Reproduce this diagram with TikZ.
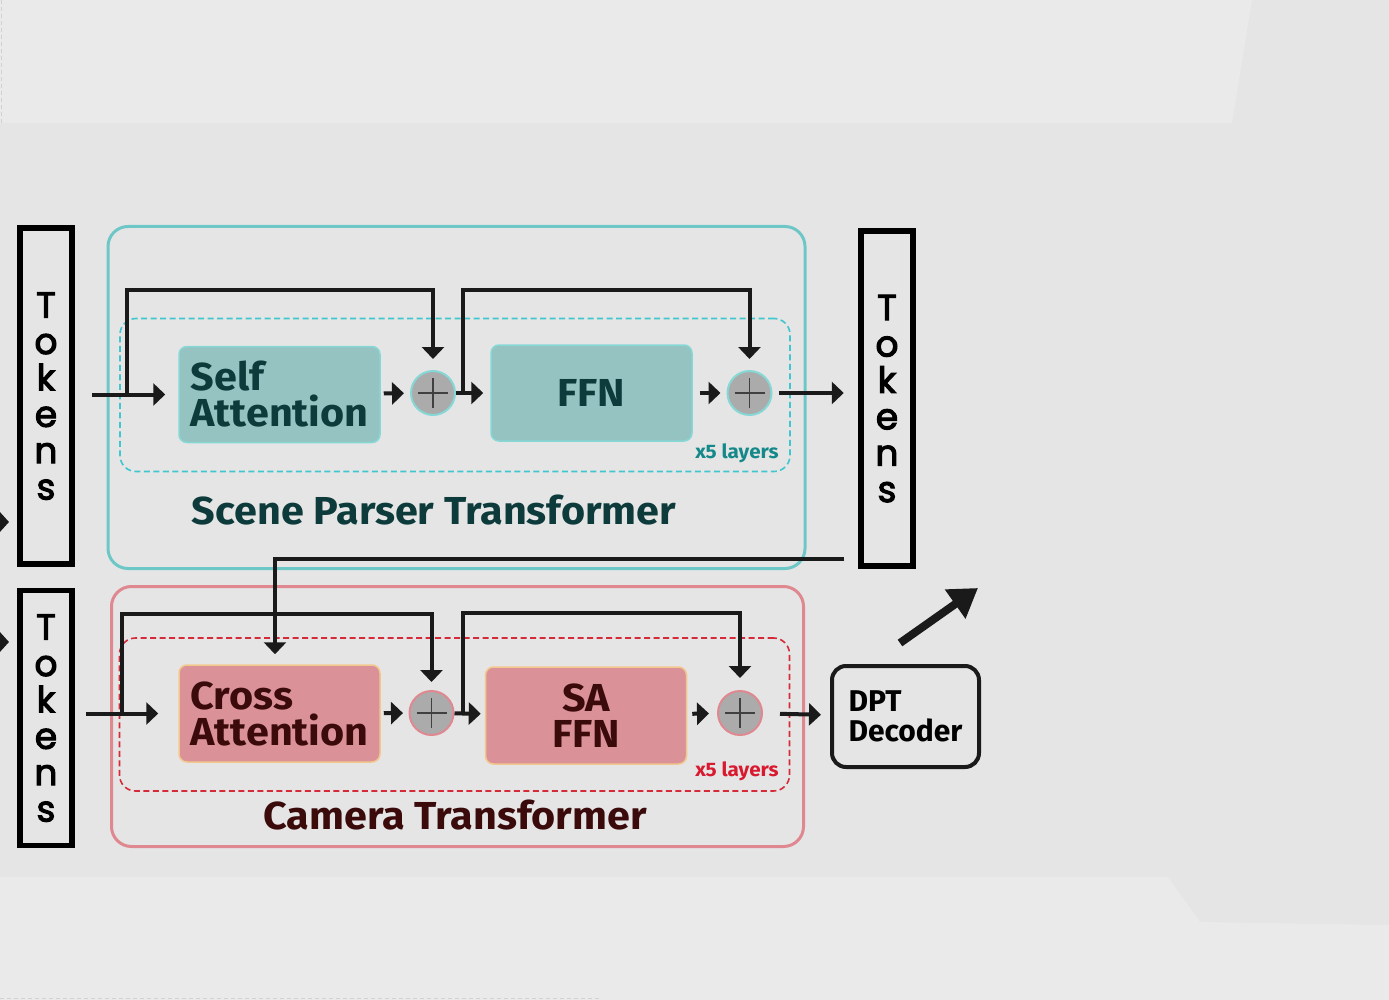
\documentclass[tikz,border=0pt]{standalone}
\usepackage{fontspec}
\setmainfont{Fira Sans}
\newfontfamily\headfont{Fira Sans}[FakeStretch=1.06]
\newfontfamily\tokfont{Poppins}[FakeBold=3]
\usetikzlibrary{arrows.meta,calc,positioning}
\definecolor{bgmid}{HTML}{E5E5E5}
\definecolor{bglight}{HTML}{EAEAEA}
\definecolor{scline}{HTML}{6EC7C7}
\definecolor{scdash}{HTML}{3FC6CE}
\definecolor{scfill}{HTML}{95C3C1}
\definecolor{scedge}{HTML}{86D8D6}
\definecolor{sctext}{HTML}{0D3B3B}
\definecolor{sclayer}{HTML}{15898A}
\definecolor{caline}{HTML}{E08890}
\definecolor{cadash}{HTML}{D52A38}
\definecolor{cafill}{HTML}{DB9198}
\definecolor{caedge}{HTML}{F2C88E}
\definecolor{catext}{HTML}{3B0B0B}
\definecolor{calayer}{HTML}{D8192F}
\definecolor{addfill}{HTML}{ABABAB}
\definecolor{inkblk}{HTML}{1A1A1A}

\begin{document}
\begin{tikzpicture}[x=1pt,y=-1pt,>={Triangle[length=12pt,width=22pt]},
    flow/.style={->,line width=4pt,draw=inkblk},
    tokbox/.style={draw=black,line width=5.5pt,minimum width=52pt,inner sep=0pt,align=center,
      font=\tokfont\fontsize{36}{36.4}\selectfont},
    frame/.style={rounded corners=20pt,line width=3pt,inner sep=0pt},
    layerbox/.style={dash pattern=on 6pt off 3.5pt,rounded corners=16pt,line width=1.6pt,
      inner sep=0pt,minimum width=670pt,minimum height=153pt},
    block/.style={rounded corners=8pt,line width=1.5pt,inner sep=0pt,minimum width=201pt,
      minimum height=96pt,align=left,font=\headfont\bfseries\fontsize{39}{36}\selectfont},
    addop/.style={circle,minimum size=44pt,inner sep=0pt,line width=2pt,fill=addfill,
      path picture={\draw[line width=1.8pt,black!75]
        ($(path picture bounding box.center)+(-15,0)$) -- ($(path picture bounding box.center)+(15,0)$)
        ($(path picture bounding box.center)+(0,-15)$) -- ($(path picture bounding box.center)+(0,15)$);}},
    reps/.style={font=\headfont\bfseries\fontsize{19.5}{19.5}\selectfont},
    title/.style={font=\headfont\bfseries\fontsize{39}{39}\selectfont}]
  \useasboundingbox (0,0) rectangle (1389,1000);
  % background
  \fill[bgmid] (0,0) rectangle (1389,1000);
  \fill[bglight] (0,0) -- (1252,0) -- (1232,123) -- (0,123) -- cycle;
  \fill[bglight] (0,877) -- (1168,877) -- (1200,922) -- (1389,925) -- (1389,1000) -- (0,1000) -- cycle;
  \draw[black!18,line width=1pt,dash pattern=on 4pt off 3pt] (1,0) -- (1,123);
  \draw[black!18,line width=1pt,dash pattern=on 4pt off 3pt] (0,998) -- (600,998);

  % token columns
  \node[tokbox,minimum height=336pt,text depth=-10pt] (tokA) at (46,396) {T\\o\\k\\e\\n\\s};
  \node[tokbox,minimum height=335pt,text depth=-8pt] (tokB) at (887,398.5) {T\\o\\k\\e\\n\\s};
  \node[tokbox,minimum height=255pt,text depth=-4pt] (tokC) at (46,718) {T\\o\\k\\e\\n\\s};

  % scene parser
  \node[frame,draw=scline,minimum width=697pt,minimum height=342pt] (scene) at (456.5,397.5) {};
  \node[layerbox,draw=scdash] (sclayers) at (455,395) {};
  \node[block,fill=scfill,draw=scedge,text=sctext] (selfatt) at (279.5,394.5) {Self\\Attention};
  \node[addop,draw=scedge] (addA) at (433,393) {};
  \node[block,fill=scfill,draw=scedge,text=sctext,align=center] (ffn) at (591.5,393) {FFN};
  \node[addop,draw=scedge] (addB) at (749.5,393) {};
  \node[reps,text=sclayer] (screp) at (737,453) {x5 layers};
  \node[title,text=sctext] (scname) at (434,510) {Scene Parser Transformer};

  % camera
  \node[frame,draw=caline,minimum width=692pt,minimum height=260pt] (camera) at (457.5,716.5) {};
  \node[layerbox,draw=cadash] (calayers) at (454.5,714.5) {};
  \node[block,fill=cafill,draw=caedge,text=catext,minimum height=97pt] (crossatt) at (279.5,713.5) {Cross\\Attention};
  \node[addop,draw=caline] (addC) at (431.5,713) {};
  \node[block,fill=cafill,draw=caedge,text=catext,minimum height=97pt,align=center] (saffn) at (586,715.5) {SA\\FFN};
  \node[addop,draw=caline] (addD) at (740,713) {};
  \node[reps,text=calayer] (carep) at (737,771) {x5 layers};
  \node[title,text=catext] (caname) at (455,815) {Camera Transformer};

  \node[draw=inkblk,line width=4pt,rounded corners=14pt,minimum width=147pt,minimum height=101pt,
    inner sep=0pt,align=left,font=\bfseries\fontsize{30}{30}\selectfont] (dpt) at (905.5,716.5) {DPT\\Decoder};

  % scene connectors
  \coordinate (skA) at ($(selfatt.west)+(-51,0)$);
  \coordinate (skB) at ($(addA.east)+(7,0)$);
  \draw[flow,shorten >=13pt] ([xshift=17pt]tokA.east |- selfatt.west) -- (selfatt.west);
  \draw[flow,shorten >=11pt] (skA) -- ++(0,-104.5) -| (addA);
  \draw[flow,shorten <=3pt,shorten >=6pt] (selfatt) -- (addA);
  \draw[flow,shorten >=7pt] (addA) -- (ffn);
  \draw[flow,shorten >=11pt] (skB) -- ++(0,-103) -| (addB);
  \draw[flow,shorten <=7pt,shorten >=6pt] (ffn) -- (addB);
  \draw[flow,shorten <=6.5pt,shorten >=14.5pt] (addB) -- (addB -| tokB.west);

  % camera connectors
  \coordinate (feed) at ($(tokB.south west)+(-14,-10)$);
  \coordinate (skC) at ($(crossatt.west)+(-56,0)$);
  \coordinate (skD) at ($(addC.east)+(8,0)$);
  \draw[flow,shorten >=10pt] (feed) -| ([xshift=-4.5pt]crossatt.north);
  \draw[flow,shorten >=20pt] ([xshift=11pt]tokC.east |- crossatt.west) -- (crossatt.west);
  \draw[flow,shorten >=8pt] (skC) -- ++(0,-100) -| (addC);
  \draw[flow,shorten <=3pt,shorten >=5.5pt] (crossatt) -- (addC);
  \draw[flow,shorten >=4pt] (addC) -- (saffn);
  \draw[flow,shorten >=12pt] (skD) -- ++(0,-100) -| (addD);
  \draw[flow,shorten <=5pt,shorten >=8pt] (saffn) -- (addD);
  \draw[flow,shorten <=17pt,shorten >=9pt] (addD) -- (dpt);

  % outgoing and incoming stubs
  \coordinate (outup) at (978,588);
  \coordinate (inA) at (9,522);
  \coordinate (inB) at (9,642);
  \draw[->,line width=8pt,draw=inkblk,>={Triangle[length=28pt,width=34pt]}] ($(dpt.north)+(-5.5,-21)$) -- (outup);
  \draw[flow,>={Triangle[length=14pt,width=30pt]}] ($(inA)+(-40,0)$) -- (inA);
  \draw[flow,>={Triangle[length=14pt,width=30pt]}] ($(inB)+(-40,0)$) -- (inB);
\end{tikzpicture}
\end{document}
